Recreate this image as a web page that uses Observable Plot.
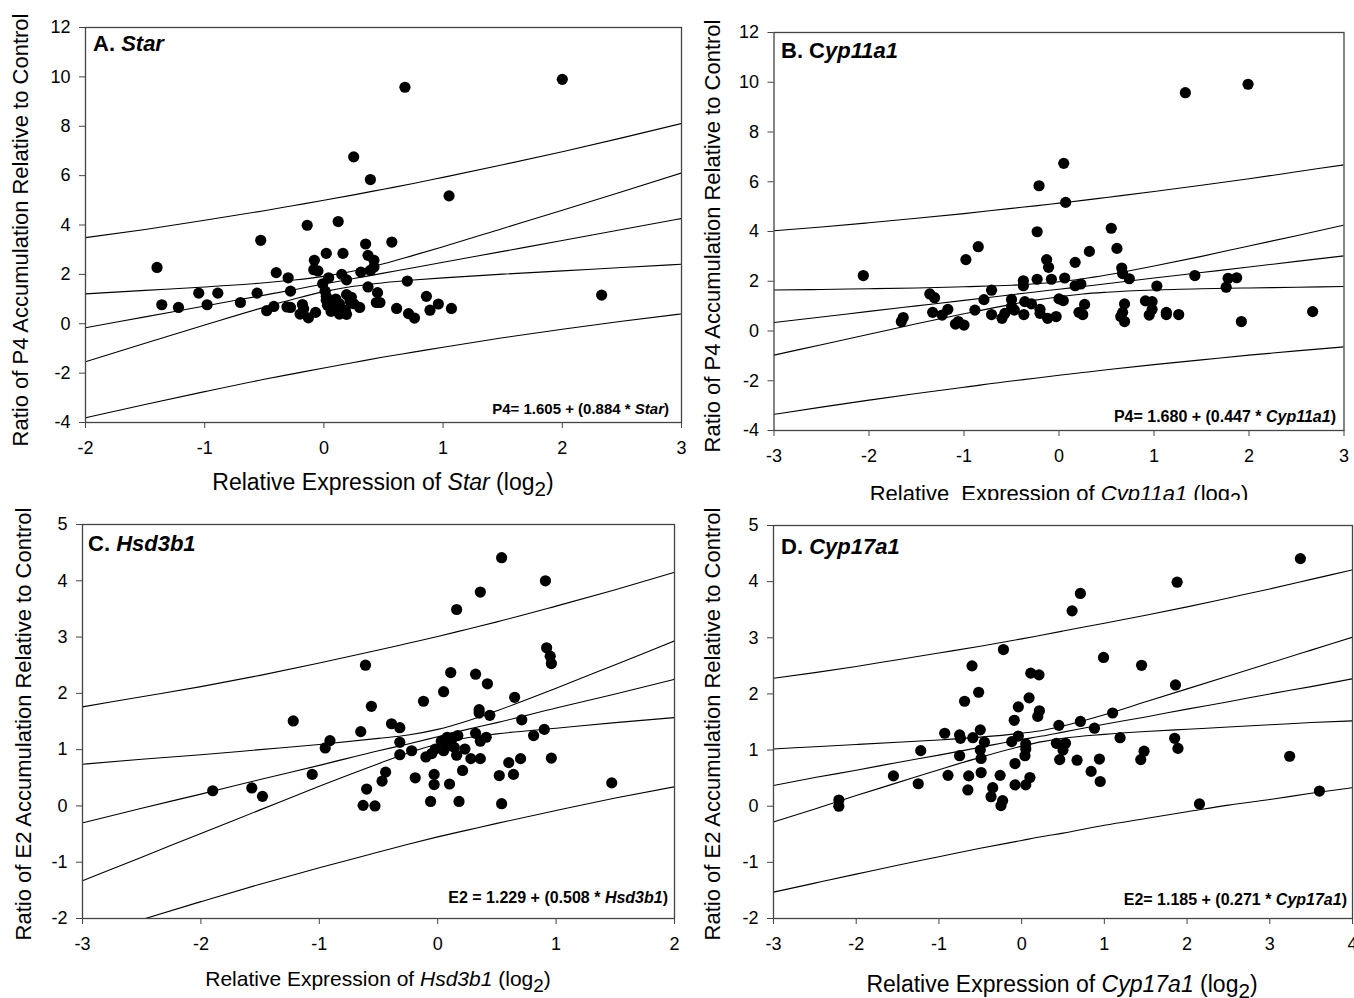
<!DOCTYPE html>
<html><head><meta charset="utf-8">
<script src="https://cdn.jsdelivr.net/npm/d3@7"></script>
<script src="https://cdn.jsdelivr.net/npm/@observablehq/plot@0.6"></script>
<style>
body{margin:0;background:#fff;}
#wrap{position:relative;width:1354px;height:998px;overflow:hidden;background:#fff;}
.panel{position:absolute;}
.panel svg{display:block;overflow:hidden;max-width:none;}
</style></head><body><div id="wrap"></div>
<script>
const FONT = "'Liberation Sans', Arial, Helvetica, sans-serif";

// ---------- Panel A: Star vs P4 ----------
const aX = [0.68,2.0,0.25,0.39,1.05,-0.14,0.12,-0.53,0.57,0.35,0.02,0.16,0.37,-0.08,0.42,-1.40,-0.40,-0.085,-0.05,-0.30,0.15,0.31,0.39,0.42,0.04,0.19,-0.01,0.70,0.37,-0.28,-1.05,-0.89,-0.56,0.01,0.45,2.33,0.02,0.19,0.86,0.23,-0.70,0.44,0.47,-1.36,-0.98,0.96,-1.22,-0.42,-0.31,-0.28,-0.18,-0.17,0.08,0.13,0.25,0.30,0.61,1.07,0.89,-0.48,0.06,-0.07,-0.20,0.13,0.19,0.71,0.76,-0.13,0.02,0.03,0.10,0.18,0.22];
const aY = [9.58,9.9,6.76,5.84,5.18,3.99,4.14,3.38,3.31,3.23,2.85,2.85,2.77,2.57,2.57,2.28,2.07,2.19,2.14,1.86,2.0,2.09,2.16,2.3,1.86,1.78,1.62,1.73,1.49,1.32,1.24,1.24,1.24,1.32,1.26,1.16,1.11,1.18,1.11,1.07,0.86,0.86,0.86,0.77,0.77,0.80,0.66,0.70,0.68,0.66,0.78,0.61,0.66,0.81,0.81,0.66,0.62,0.62,0.55,0.53,0.50,0.46,0.39,0.39,0.38,0.41,0.23,0.24,0.95,0.75,1.0,0.55,0.92];
const aLineX = [-2,-1.5,-1,-0.5,-0.25,0,0.25,0.5,0.75,1,1.5,2,2.5,3];
const aReg  = [-0.16,0.28,0.72,1.16,1.38,1.61,1.83,2.05,2.27,2.49,2.93,3.37,3.82,4.26];
const aCiUp = [1.21,1.35,1.49,1.66,1.77,1.92,2.14,2.43,2.77,3.12,3.86,4.60,5.35,6.11];
const aCiLo = [-1.54,-0.79,-0.05,0.67,1.00,1.30,1.52,1.66,1.77,1.86,2.01,2.14,2.28,2.41];
const aPiUp = [3.49,3.82,4.19,4.58,4.79,5.00,5.22,5.45,5.68,5.93,6.44,6.97,7.53,8.11];
const aPiLo = [-3.81,-3.27,-2.75,-2.25,-2.02,-1.79,-1.57,-1.35,-1.15,-0.95,-0.57,-0.22,0.10,0.40];
const aXTicks = [-2,-1,0,1,2,3];
const aYTicks = [-4,-2,0,2,4,6,8,10,12];

// ---------- Panel B: Cyp11a1 vs P4 ----------
const bX = [1.33,1.99,0.05,-0.21,0.07,-0.23,0.55,-0.85,0.61,0.32,-0.98,-0.13,0.17,-0.11,0.66,-2.06,1.43,0.67,-0.375,-0.23,-0.08,0.06,0.74,1.78,1.87,-0.375,0.17,0.23,1.03,1.76,-0.71,-1.36,-1.31,-0.79,-0.50,0.0,0.045,-0.36,-0.29,0.91,0.98,0.69,0.27,-0.5,-1.17,-0.885,-0.20,0.98,1.13,-1.33,-0.47,0.21,0.67,2.67,-1.23,-0.71,-0.57,-0.37,-0.20,0.25,0.95,1.13,1.26,0.65,-1.64,-0.60,-0.12,-0.03,-1.66,-1.06,-1.09,-1.0,0.69,1.92];
const bY = [9.58,9.92,6.74,5.84,5.17,3.99,4.13,3.39,3.32,3.20,2.87,2.87,2.76,2.56,2.53,2.23,2.23,2.31,2.02,2.08,2.08,2.13,2.10,2.12,2.14,1.82,1.82,1.89,1.81,1.76,1.64,1.49,1.34,1.26,1.27,1.29,1.22,1.18,1.09,1.21,1.18,1.09,1.07,0.98,0.87,0.84,0.87,0.87,0.75,0.75,0.84,0.75,0.75,0.78,0.64,0.66,0.71,0.66,0.71,0.66,0.64,0.66,0.66,0.58,0.54,0.51,0.51,0.58,0.38,0.38,0.28,0.24,0.38,0.38];
const bLineX = [-3,-2.5,-2,-1.5,-1,-0.5,-0.25,0,0.25,0.5,1,1.5,2,2.5,3];
const bReg  = [0.34,0.56,0.79,1.01,1.23,1.46,1.57,1.68,1.79,1.90,2.13,2.35,2.57,2.80,3.02];
const bCiUp = [1.65,1.67,1.70,1.73,1.78,1.84,1.90,1.98,2.10,2.25,2.61,3.00,3.42,3.83,4.26];
const bCiLo = [-0.97,-0.55,-0.13,0.29,0.69,1.07,1.24,1.38,1.49,1.56,1.65,1.70,1.73,1.76,1.79];
const bPiUp = [4.03,4.18,4.35,4.53,4.72,4.93,5.03,5.14,5.25,5.37,5.61,5.86,6.12,6.40,6.68];
const bPiLo = [-3.35,-3.06,-2.78,-2.51,-2.26,-2.01,-1.90,-1.78,-1.67,-1.56,-1.35,-1.16,-0.97,-0.80,-0.64];
const bXTicks = [-3,-2,-1,0,1,2,3];
const bYTicks = [-4,-2,0,2,4,6,8,10,12];

// ---------- Panel C: Hsd3b1 vs E2 ----------
const cX = [0.54,0.91,0.36,0.16,0.92,0.95,0.96,-0.61,0.11,0.32,0.42,0.05,-0.12,0.65,-0.56,0.35,0.35,0.44,-1.22,0.71,-0.39,-0.32,0.90,-0.65,0.32,0.81,0.17,0.08,0.13,0.41,-0.91,-0.32,0.03,0.36,-0.95,0.09,0.14,0.23,-0.02,-0.22,0.05,-0.05,-0.32,0.16,-0.10,0.28,0.36,0.70,0.96,0.60,0.21,-0.44,-1.06,-0.03,0.52,0.64,-0.19,-0.47,1.47,0.10,-0.03,-1.57,-0.60,-1.90,-1.48,-0.06,0.18,0.54,-0.63,-0.53];
const cY = [4.41,4.0,3.80,3.49,2.81,2.66,2.53,2.50,2.37,2.34,2.17,2.03,1.86,1.93,1.77,1.71,1.65,1.61,1.51,1.53,1.46,1.39,1.36,1.32,1.29,1.25,1.25,1.22,1.22,1.22,1.16,1.13,1.15,1.15,1.03,1.07,1.04,1.01,1.01,0.98,0.98,0.93,0.91,0.90,0.87,0.84,0.84,0.84,0.85,0.77,0.63,0.60,0.56,0.56,0.54,0.56,0.50,0.44,0.41,0.39,0.38,0.32,0.30,0.27,0.17,0.08,0.08,0.04,0.01,0.0];
const cLineX = [-3,-2.5,-2,-1.5,-1,-0.5,-0.25,0,0.25,0.5,1,1.5,2];
const cReg  = [-0.30,-0.04,0.21,0.47,0.72,0.98,1.10,1.23,1.36,1.48,1.74,1.99,2.25];
const cCiUp = [0.74,0.83,0.91,1.00,1.09,1.20,1.26,1.36,1.51,1.69,2.09,2.51,2.93];
const cCiLo = [-1.33,-0.91,-0.49,-0.07,0.35,0.75,0.94,1.10,1.21,1.28,1.38,1.48,1.57];
const cPiUp = [1.76,1.94,2.12,2.32,2.54,2.77,2.89,3.01,3.14,3.27,3.55,3.84,4.15];
const cPiLo = [-2.35,-2.02,-1.70,-1.39,-1.10,-0.82,-0.68,-0.55,-0.43,-0.31,-0.08,0.14,0.34];
const cXTicks = [-3,-2,-1,0,1,2];
const cYTicks = [-2,-1,0,1,2,3,4,5];

// ---------- Panel D: Cyp17a1 vs E2 ----------
const dX = [3.37,1.88,0.71,0.61,-0.22,0.99,1.45,-0.60,0.11,0.21,1.86,-0.52,0.09,-0.69,-0.04,0.215,0.195,1.10,-0.09,0.71,0.45,0.88,-0.50,-0.93,-0.75,-0.04,-0.59,-0.74,1.19,1.85,-0.45,-0.12,0.42,0.53,0.05,-0.50,-1.22,0.50,0.05,1.89,1.48,0.04,-0.75,3.24,-0.49,0.46,0.67,0.94,1.44,-0.08,0.84,-0.49,-1.55,-0.89,-0.64,-0.26,0.10,0.95,-1.25,-0.08,0.05,3.60,-0.35,-0.65,-0.37,-0.23,-0.25,-2.21,-2.21,2.15];
const dY = [4.41,3.99,3.79,3.48,2.79,2.65,2.51,2.50,2.37,2.34,2.16,2.03,1.93,1.87,1.77,1.70,1.60,1.66,1.53,1.51,1.44,1.39,1.36,1.30,1.27,1.25,1.22,1.21,1.22,1.21,1.14,1.15,1.12,1.12,1.11,1.0,0.99,1.0,1.02,1.03,0.98,0.90,0.90,0.89,0.85,0.83,0.82,0.84,0.83,0.76,0.62,0.60,0.54,0.55,0.54,0.55,0.51,0.44,0.40,0.38,0.38,0.27,0.33,0.29,0.17,0.10,0.01,0.11,0.0,0.04];
const dLineX = [-3,-2.5,-2,-1.5,-1,-0.5,0,0.25,0.5,1,1.5,2,2.5,3,3.5,4];
const dReg  = [0.37,0.51,0.64,0.78,0.91,1.05,1.19,1.25,1.32,1.46,1.59,1.73,1.86,2.00,2.13,2.27];
const dCiUp = [1.02,1.06,1.10,1.14,1.18,1.23,1.30,1.35,1.43,1.63,1.86,2.09,2.32,2.55,2.78,3.01];
const dCiLo = [-0.28,-0.05,0.19,0.42,0.65,0.87,1.07,1.15,1.21,1.28,1.33,1.37,1.41,1.45,1.49,1.52];
const dPiUp = [2.28,2.38,2.49,2.61,2.73,2.85,2.98,3.05,3.12,3.26,3.40,3.55,3.71,3.87,4.04,4.21];
const dPiLo = [-1.53,-1.37,-1.21,-1.05,-0.90,-0.75,-0.61,-0.54,-0.48,-0.34,-0.22,-0.10,0.02,0.12,0.23,0.33];
const dXTicks = [-3,-2,-1,0,1,2,3,4];
const dYTicks = [-2,-1,0,1,2,3,4,5];

// ---------- layout & texts ----------
const panels = [
  {left:0, top:0, w:690, h:500, ml:85, mr:9, mt:27, mb:78,
   xs:aX, ys:aY, lineX:aLineX, lines:[aPiUp,aCiUp,aReg,aCiLo,aPiLo], xTicks:aXTicks, yTicks:aYTicks,
   title:[["A. ",false],["Star",true]], titlePos:[93,51],
   eq:[["P4= 1.605 + (0.884 * ",false],["Star",true],[")",false]], eqPos:[669,414], eqSize:15,
   xlab:[["Relative Expression of ",false],["Star",true],[" (log",false],["2","sub"],[")",false]], xlabPos:[383,490], xlabSize:23,
   ylab:"Ratio of P4 Accumulation Relative to Control", ylabPos:[28,230]},
  {left:690, top:0, w:664, h:500, ml:83.5, mr:10.5, mt:32, mb:70,
   xs:bX, ys:bY, lineX:bLineX, lines:[bPiUp,bCiUp,bReg,bCiLo,bPiLo], xTicks:bXTicks, yTicks:bYTicks,
   title:[["B. C",false],["yp11a1",true]], titlePos:[91,58],
   eq:[["P4= 1.680 + (0.447 * ",false],["Cyp11a1",true],[")",false]], eqPos:[646,422], eqSize:16,
   xlab:[["Relative  Expression of ",false],["Cyp11a1",true],[" (log",false],["2","sub"],[")",false]], xlabPos:[369,501], xlabSize:22,
   ylab:"Ratio of P4 Accumulation Relative to Control", ylabPos:[30,236]},
  {left:0, top:500, w:690, h:498, ml:82, mr:16, mt:24, mb:80,
   xs:cX, ys:cY, lineX:cLineX, lines:[cPiUp,cCiUp,cReg,cCiLo,cPiLo], xTicks:cXTicks, yTicks:cYTicks,
   title:[["C. ",false],["Hsd3b1",true]], titlePos:[88,51],
   eq:[["E2 = 1.229 + (0.508 * ",false],["Hsd3b1",true],[")",false]], eqPos:[668,403], eqSize:16,
   xlab:[["Relative Expression of ",false],["Hsd3b1",true],[" (log",false],["2","sub"],[")",false]], xlabPos:[378,486], xlabSize:21,
   ylab:"Ratio of E2 Accumulation Relative to Control", ylabPos:[31,224]},
  {left:690, top:500, w:664, h:498, ml:83, mr:2, mt:25, mb:80,
   xs:dX, ys:dY, lineX:dLineX, lines:[dPiUp,dCiUp,dReg,dCiLo,dPiLo], xTicks:dXTicks, yTicks:dYTicks,
   title:[["D. ",false],["Cyp17a1",true]], titlePos:[91,54],
   eq:[["E2= 1.185 + (0.271 * ",false],["Cyp17a1",true],[")",false]], eqPos:[657,405], eqSize:16,
   xlab:[["Relative Expression of ",false],["Cyp17a1",true],[" (log",false],["2","sub"],[")",false]], xlabPos:[372,492], xlabSize:23,
   ylab:"Ratio of E2 Accumulation Relative to Control", ylabPos:[30,224]}
];

function addText(sel, parts, x, y, opts) {
  const t = sel.append("text")
    .attr("x", x).attr("y", y)
    .attr("font-family", FONT)
    .attr("font-size", opts.size)
    .attr("font-weight", opts.bold ? "bold" : "normal")
    .attr("text-anchor", opts.anchor || "start")
    .attr("fill", "#000")
    .style("white-space", "pre");
  if (opts.transform) t.attr("transform", opts.transform);
  let shifted = false;
  for (const [s, st] of parts) {
    const sp = t.append("tspan").text(s);
    if (st === true) sp.attr("font-style", "italic");
    if (st === "sub") { sp.attr("font-size", opts.size * 0.9).attr("dy", 6); shifted = true; }
    else if (shifted) { sp.attr("dy", -6); shifted = false; }
  }
  return t;
}

const wrap = document.getElementById("wrap");
for (const p of panels) {
  const pts = p.xs.map((x, i) => ({x, y: p.ys[i]}));
  const lineMarks = p.lines.map(arr =>
    Plot.line(p.lineX.map((x, i) => ({x, y: arr[i]})),
      {x: "x", y: "y", stroke: "#000", strokeWidth: 1.1, curve: "monotone-x", clip: true}));
  const xd = [p.xTicks[0], p.xTicks[p.xTicks.length - 1]];
  const yd = [p.yTicks[0], p.yTicks[p.yTicks.length - 1]];
  const svg = Plot.plot({
    width: p.w, height: p.h,
    marginLeft: p.ml, marginRight: p.mr, marginTop: p.mt, marginBottom: p.mb,
    style: "font-family: 'Liberation Sans', Arial, sans-serif; font-size: 18px; color: #000; background: #fff; overflow: hidden;",
    x: {domain: xd, ticks: p.xTicks, tickFormat: d => String(d), tickSize: 6, tickPadding: 13, label: null},
    y: {domain: yd, ticks: p.yTicks, tickFormat: d => String(d), tickSize: 6, tickPadding: 9, label: null},
    marks: [
      ...lineMarks,
      Plot.dot(pts, {x: "x", y: "y", r: 5.6, fill: "#000", stroke: "none"}),
      Plot.frame({stroke: "#444", strokeWidth: 1.3})
    ]
  });
  const s = d3.select(svg);
  // tick labels: the only texts Plot has drawn so far
  s.selectAll("text").attr("font-size", 18).attr("font-family", FONT).style("font-size", "18px");
  s.selectAll('g[aria-label="x-axis tick"], g[aria-label="y-axis tick"]').attr("stroke", "#444");
  addText(s, p.title, p.titlePos[0], p.titlePos[1], {size: 22, bold: true});
  addText(s, p.eq, p.eqPos[0], p.eqPos[1], {size: p.eqSize, bold: true, anchor: "end"});
  addText(s, p.xlab, p.xlabPos[0], p.xlabPos[1], {size: p.xlabSize, anchor: "middle"});
  addText(s, [[p.ylab, false]], 0, 0, {size: 22, anchor: "middle",
    transform: `translate(${p.ylabPos[0]},${p.ylabPos[1]}) rotate(-90)`});
  const div = document.createElement("div");
  div.className = "panel";
  div.style.left = p.left + "px"; div.style.top = p.top + "px";
  div.style.width = p.w + "px"; div.style.height = p.h + "px";
  div.appendChild(svg);
  wrap.appendChild(div);
}
</script></body></html>
